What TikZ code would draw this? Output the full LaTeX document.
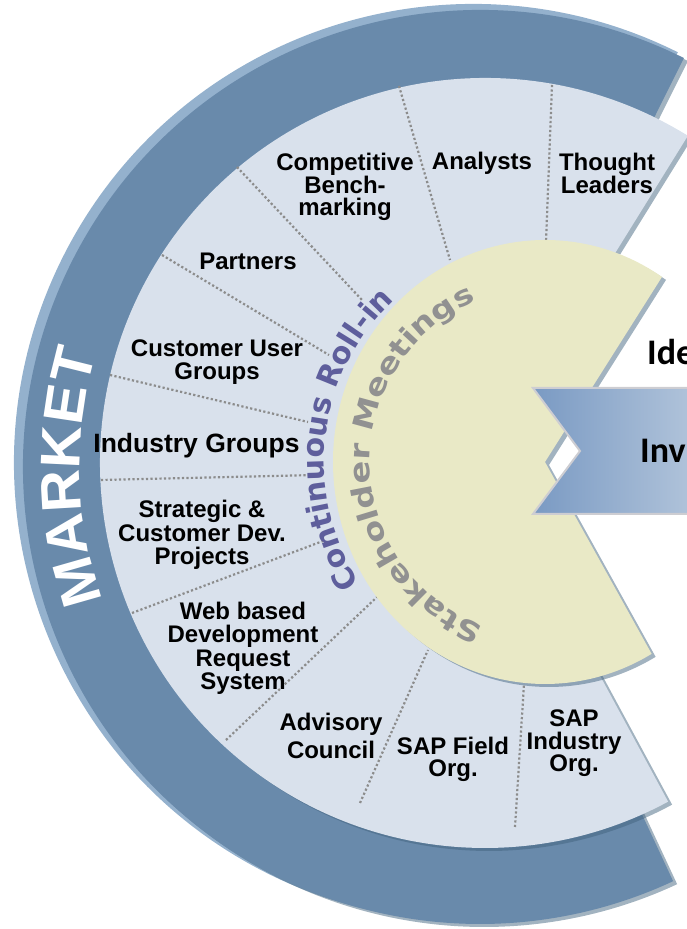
\documentclass[tikz,border=0pt]{standalone}
\usepackage{fontspec}
\setmainfont{Liberation Sans}
\newfontfamily\mktfont[FakeStretch=1.05]{Liberation Sans Bold}
\newfontfamily\contfont{DejaVu Sans Bold}
\newfontfamily\stakefont[FakeStretch=1.2]{DejaVu Sans Bold}
\newfontfamily\calfont{Carlito}
\usetikzlibrary{decorations.text,calc}

\definecolor{darkband}{RGB}{105,138,171}
\definecolor{rimcol}{RGB}{148,177,205}
\definecolor{lightbg}{RGB}{217,225,236}
\definecolor{yellowbg}{RGB}{233,233,198}
\definecolor{shadowcol}{RGB}{66,99,126}
\definecolor{dotcol}{RGB}{140,140,140}
\definecolor{contcol}{RGB}{94,94,156}
\definecolor{stakecol}{RGB}{145,145,145}
\definecolor{chevL}{RGB}{122,154,195}
\definecolor{chevR}{RGB}{176,195,218}
\definecolor{chevborder}{RGB}{205,205,210}

\newcommand{\ringpath}[2]{($(#1)+(63.5:#2)$) arc[start angle=63.5,end angle=295,radius=#2] -- ($(#1)+(295:360pt)$) arc[start angle=295,end angle=63.5,radius=360pt] -- cycle}
\newcommand{\lightpath}[1]{(#1) -- ($(#1)+(58.2:385pt)$) arc[start angle=58.2,end angle=298.4,radius=385pt] -- cycle}
\newcommand{\yellowpath}[1]{(#1) -- ($(#1)+(56.5:212pt and 222pt)$) arc[start angle=56.5,end angle=300.2,x radius=212pt,y radius=222pt] -- cycle}

\tikzset{
  shad/.style={fill=shadowcol, fill opacity=0.49},
  sep/.style={draw=dotcol, line width=2.2pt, dash pattern=on 2.2pt off 2.3pt},
  lbl/.style={font=\bfseries\fontsize{24}{23}\selectfont, align=center, inner sep=0pt, anchor=north, text=black},
  bigtxt/.style={font=\calfont\bfseries\fontsize{36}{36}\selectfont, anchor=base west, inner sep=0pt, text=black}
}

\begin{document}
\begin{tikzpicture}[x=1pt,y=1pt]
\useasboundingbox (0,0) rectangle (687,929);
\clip (0,0) rectangle (687,929);

\coordinate (D) at (480,462);
\coordinate (Ds) at (484,459);
\coordinate (Rc) at (473,466);
\coordinate (L) at (485,466);
\coordinate (Ls) at (489,463);
\coordinate (Y) at (545,467);
\coordinate (Ys) at (549,464);

% market band
\fill[rimcol] \ringpath{Rc}{459pt};
\fill[shad] \ringpath{Ds}{457pt};
\fill[darkband] \ringpath{D}{457pt};

% light sector
\fill[shad] \lightpath{Ls};
\fill[lightbg] \lightpath{L};

% separators
\coordinate (a1) at (399,843); \coordinate (a2) at (450,669);
\coordinate (b1) at (552,844); \coordinate (b2) at (546,687);
\coordinate (c1) at (237,762); \coordinate (c2) at (362,629);
\coordinate (d1) at (162,674); \coordinate (d2) at (329,574);
\coordinate (e1) at (110,554); \coordinate (e2) at (308,507);
\coordinate (f1) at (101,449); \coordinate (f2) at (316,454);
\coordinate (g1) at (132,316); \coordinate (g2) at (323,388);
\coordinate (h1) at (226,189); \coordinate (h2) at (377,332);
\coordinate (i1) at (360,126); \coordinate (i2) at (428,279);
\coordinate (j1) at (515,102); \coordinate (j2) at (524,245);
\foreach \s in {a,b,c,d,e,f,g,h,i,j} \draw[sep] (\s1) -- (\s2);

% labels
\node[lbl, font=\bfseries\fontsize{24}{22.5}\selectfont] (comp) at (345,776) {Competitive\\Bench-\\marking};
\node[lbl] (anal) at (482,777) {Analysts};
\node[lbl] (thought) at (607,776) {Thought\\Leaders};
\node[lbl] (partners) at (248,676) {Partners};
\node[lbl] (cug) at (217,589) {Customer User\\Groups};
\node[lbl, font=\bfseries\fontsize{26.5}{26}\selectfont] (ind) at (196.5,496) {Industry Groups};
\node[lbl, font=\bfseries\fontsize{24}{23.5}\selectfont] (strat) at (202,429) {Strategic \&\\Customer Dev.\\Projects};
\node[lbl, font=\bfseries\fontsize{24}{23.3}\selectfont] (web) at (243,327) {Web based\\Development\\Request\\System};
\node[lbl, font=\bfseries\fontsize{24}{28}\selectfont] (adv) at (331,216) {Advisory\\Council};
\node[lbl, font=\bfseries\fontsize{24}{22}\selectfont] (field) at (453,192) {SAP Field\\Org.};
\node[lbl, font=\bfseries\fontsize{24}{22.5}\selectfont] (sapind) at (574,219) {SAP\\Industry\\Org.};

% yellow sector
\fill[shad] \yellowpath{Ys};
\fill[yellowbg] \yellowpath{Y};

% curved texts
\path[decorate, decoration={text along path, text={|\mktfont\fontsize{56}{56}\selectfont\color{white}|MARKET}}]
  ($(D)+(199.5:400pt)$) arc[start angle=199.5, end angle=150, radius=400pt];
\path[decorate, decoration={text along path, text={|\contfont\fontsize{30}{30}\selectfont\color{contcol}|Continuous Roll-in}}]
  ($(Y)+(213.2:221pt)$) arc[start angle=213.2, end angle=110, radius=221pt];
\path[decorate, decoration={text along path, text={|\stakefont\fontsize{28}{28}\selectfont\color{stakecol}|Stakeholder Meetings}}]
  ($(Y)+(249.5:175pt)$) arc[start angle=249.5, end angle=95, radius=175pt];

% chevron
\coordinate (cv1) at (533,541);
\coordinate (cv2) at (692,541);
\coordinate (cv3) at (692,415);
\coordinate (cv4) at (533,415);
\coordinate (cv5) at (580,478);
\shadedraw[left color=chevL, right color=chevR, draw=chevborder, line width=2pt, line join=miter]
  (cv1) -- (cv2) -- (cv3) -- (cv4) -- (cv5) -- cycle;

\node[bigtxt] (ide) at (647,564) {Ide};
\node[bigtxt] (inv) at (640,466) {Inv};
\end{tikzpicture}
\end{document}
